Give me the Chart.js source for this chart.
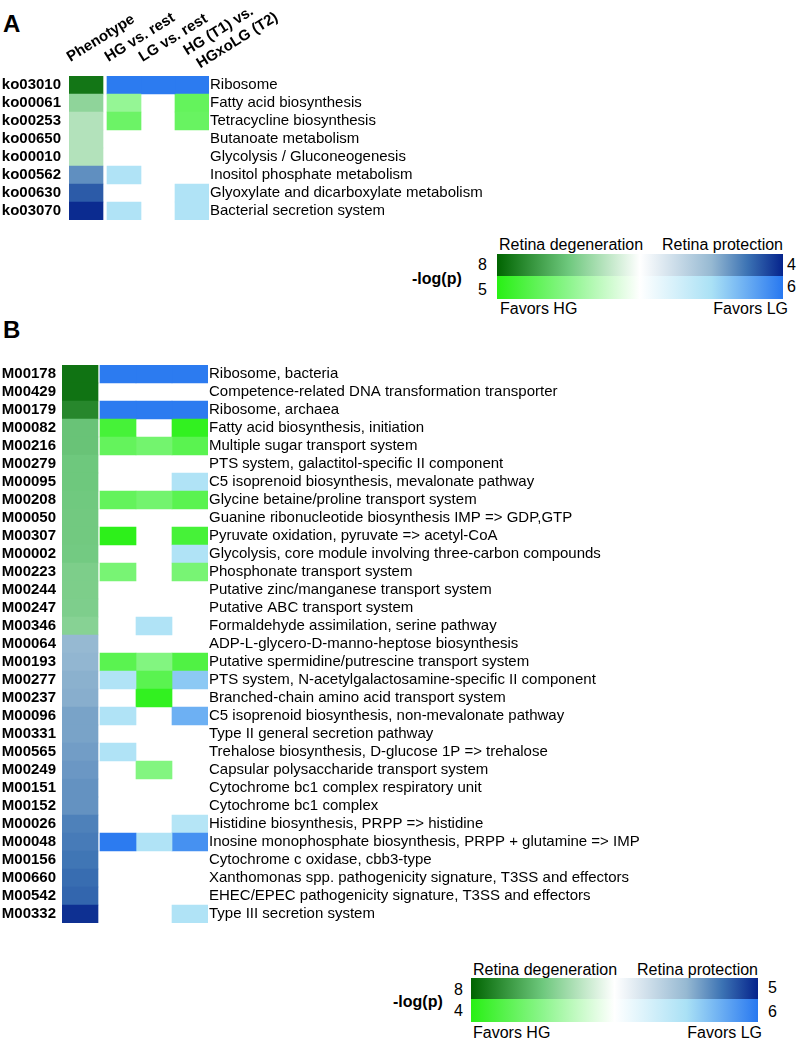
<!DOCTYPE html>
<html>
<head>
<meta charset="utf-8">
<script src="https://cdn.jsdelivr.net/npm/chart.js@4"></script>
<style>
  body { margin: 0; width: 802px; height: 1044px; position: relative; background: #fff; overflow: hidden;
         font-family: "Liberation Sans", Arial, sans-serif; color: #000; }
  canvas { position: absolute; left: 0; }
  .t { position: absolute; font-size: 16px; line-height: 18px; white-space: nowrap; }
  .b { font-weight: bold; }
  .letter { position: absolute; font-size: 24px; line-height: 24px; font-weight: bold; }
  .bar { position: absolute; }
</style>
</head>
<body>
<div class="letter" style="left:3px;top:12px">A</div>
<canvas id="chartA" width="802" height="226" style="top:0"></canvas>

<div class="t b" style="left:412px;top:270px">-log(p)</div>
<div class="t" style="left:478px;top:256px">8</div>
<div class="t" style="left:478px;top:281px">5</div>
<div class="t" style="left:787px;top:256px">4</div>
<div class="t" style="left:787px;top:278px">6</div>
<div class="t" style="left:499px;top:236px">Retina degeneration</div>
<div class="t" style="right:19px;top:236px">Retina protection</div>
<div class="bar pheno" style="left:497px;top:254px;width:286px;height:22px"></div>
<div class="bar favor" style="left:497px;top:276px;width:286px;height:23px"></div>
<div class="t" style="left:500px;top:300px">Favors HG</div>
<div class="t" style="right:14px;top:300px">Favors LG</div>

<div class="letter" style="left:3px;top:318px">B</div>
<canvas id="chartB" width="802" height="575" style="top:360px"></canvas>

<div class="t b" style="left:393px;top:993px">-log(p)</div>
<div class="t" style="left:454px;top:981px">8</div>
<div class="t" style="left:454px;top:1002px">4</div>
<div class="t" style="left:768px;top:979px">5</div>
<div class="t" style="left:768px;top:1003px">6</div>
<div class="t" style="left:473px;top:961px">Retina degeneration</div>
<div class="t" style="right:44px;top:961px">Retina protection</div>
<div class="bar pheno" style="left:471px;top:978px;width:287px;height:21px"></div>
<div class="bar favor" style="left:471px;top:999px;width:287px;height:23px"></div>
<div class="t" style="left:473px;top:1024px">Favors HG</div>
<div class="t" style="right:40px;top:1024px">Favors LG</div>

<script>
// column headers (every header has two lines so they all stack the same way)
const colNames = [['Phenotype', ''], ['HG vs. rest', ''], ['LG vs. rest', ''],
  ['   HG (T1) vs.', '    HGxoLG (T2)']];

// panel A - KEGG pathways
const koIds = ['ko03010', 'ko00061', 'ko00253', 'ko00650', 'ko00010', 'ko00562', 'ko00630', 'ko03070'];
const koNames = ['Ribosome', 'Fatty acid biosynthesis', 'Tetracycline biosynthesis', 'Butanoate metabolism',
  'Glycolysis / Gluconeogenesis', 'Inositol phosphate metabolism', 'Glyoxylate and dicarboxylate metabolism',
  'Bacterial secretion system'];
// -log(p), positive = degeneration / favors HG, negative = protection / favors LG
const koPhenotype = [7.3, 3.1, 2.1, 2.1, 2.1, -2.6, -3.3, -3.9];
const koHG = [-5.9, 2.3, 3.3, null, null, -2.8, null, -2.8];
const koLG = [-5.9, null, null, null, null, null, null, null];
const koT1 = [-5.9, 3.5, 3.4, null, null, null, -2.8, -2.8];

// panel B - KEGG modules
const modIds = ['M00178', 'M00429', 'M00179', 'M00082', 'M00216', 'M00279', 'M00095', 'M00208', 'M00050',
  'M00307', 'M00002', 'M00223', 'M00244', 'M00247', 'M00346', 'M00064', 'M00193', 'M00277', 'M00237',
  'M00096', 'M00331', 'M00565', 'M00249', 'M00151', 'M00152', 'M00026', 'M00048', 'M00156', 'M00660',
  'M00542', 'M00332'];
const modNames = ['Ribosome, bacteria', 'Competence-related DNA transformation transporter', 'Ribosome, archaea',
  'Fatty acid biosynthesis, initiation', 'Multiple sugar transport system',
  'PTS system, galactitol-specific II component', 'C5 isoprenoid biosynthesis, mevalonate pathway',
  'Glycine betaine/proline transport system', 'Guanine ribonucleotide biosynthesis IMP => GDP,GTP',
  'Pyruvate oxidation, pyruvate => acetyl-CoA', 'Glycolysis, core module involving three-carbon compounds',
  'Phosphonate transport system', 'Putative zinc/manganese transport system', 'Putative ABC transport system',
  'Formaldehyde assimilation, serine pathway', 'ADP-L-glycero-D-manno-heptose biosynthesis',
  'Putative spermidine/putrescine transport system', 'PTS system, N-acetylgalactosamine-specific II component',
  'Branched-chain amino acid transport system', 'C5 isoprenoid biosynthesis, non-mevalonate pathway',
  'Type II general secretion pathway', 'Trehalose biosynthesis, D-glucose 1P => trehalose',
  'Capsular polysaccharide transport system', 'Cytochrome bc1 complex respiratory unit', 'Cytochrome bc1 complex',
  'Histidine biosynthesis, PRPP => histidine', 'Inosine monophosphate biosynthesis, PRPP + glutamine => IMP',
  'Cytochrome c oxidase, cbb3-type', 'Xanthomonas spp. pathogenicity signature, T3SS and effectors',
  'EHEC/EPEC pathogenicity signature, T3SS and effectors', 'Type III secretion system'];
const modPhenotype = [7.4, 7.4, 6.6, 4.2, 4.2, 4.0, 4.0, 3.95, 3.9, 3.9, 3.85, 3.6, 3.6, 3.55, 3.3,
  -2.5, -2.55, -2.65, -2.7, -2.9, -2.9, -3.0, -3.1, -3.2, -3.2, -3.5, -3.6, -3.7, -3.85, -3.95, -4.8];
const modHG = [-5.9, null, -5.9, 3.4, 2.8, null, null, 2.8, null, 3.9, null, 2.4, null, null, null,
  null, 3.0, -2.8, null, -2.8, null, -2.8, null, null, null, null, -5.9, null, null, null, null];
const modLG = [-5.9, null, -5.9, null, 2.5, null, null, 2.5, null, null, null, null, null, null, -2.8,
  null, 2.2, 3.0, 3.8, null, null, null, 2.2, null, null, null, -2.8, null, null, null, null];
const modT1 = [-5.9, null, -5.9, 3.8, 3.0, null, -2.8, 3.0, null, 3.4, -2.8, 2.4, null, null, null,
  null, 3.2, -3.7, null, -4.4, null, null, null, null, null, -2.6, -5.3, null, null, null, -2.8];

// colour maps
const phenoGreen = [[0, [255, 255, 255]], [0.5, [110, 200, 125]], [1, [0, 100, 0]]];
const phenoBlue = [[0, [255, 255, 255]], [0.5, [150, 185, 210]], [0.75, [60, 115, 180]], [1, [5, 35, 140]]];
const favorGreen = [[0, [255, 255, 255]], [0.5, [140, 245, 140]], [1, [40, 240, 20]]];
const favorBlue = [[0, [255, 255, 255]], [0.5, [170, 225, 245]], [1, [40, 120, 240]]];

function ramp(stops, t) {
  t = Math.max(0, Math.min(1, t));
  for (let i = 1; i < stops.length; i++) {
    if (t <= stops[i][0]) {
      const [t0, c0] = stops[i - 1], [t1, c1] = stops[i];
      const f = (t - t0) / (t1 - t0);
      return 'rgb(' + c0.map((c, k) => Math.round(c + (c1[k] - c) * f)).join(',') + ')';
    }
  }
  return 'rgb(' + stops[stops.length - 1][1].join(',') + ')';
}

function cellColor(v, sc) {
  if (v === null) return 'rgba(0,0,0,0)';
  return v > 0 ? ramp(sc.pos, v / sc.posMax) : ramp(sc.neg, -v / sc.negMax);
}

function gradient(green, blue) {
  const parts = [];
  green.slice().reverse().forEach(s => parts.push(ramp(green, s[0]) + ' ' + (50 - s[0] * 50) + '%'));
  blue.slice(1).forEach(s => parts.push(ramp(blue, s[0]) + ' ' + (50 + s[0] * 50) + '%'));
  return 'linear-gradient(to right, ' + parts.join(', ') + ')';
}
document.querySelectorAll('.pheno').forEach(el => el.style.background = gradient(phenoGreen, phenoBlue));
document.querySelectorAll('.favor').forEach(el => el.style.background = gradient(favorGreen, favorBlue));

Chart.defaults.font.family = '"Liberation Sans", Arial, sans-serif';
Chart.defaults.color = '#000';

const noGrid = { display: false, drawTicks: false };

function heatmap(id, ids, names, cols, o) {
  const datasets = [];
  cols.forEach((c, i) => {
    if (i === 1) datasets.push({ data: ids.map(() => o.gap), backgroundColor: 'rgba(0,0,0,0)' });
    datasets.push({ data: ids.map(() => 1), backgroundColor: c.values.map(v => cellColor(v, c.scale)) });
  });
  const max = 4 + o.gap;
  const scales = {
    x: { stacked: true, display: false, min: 0, max: max },
    y: {
      stacked: true, grid: noGrid, border: { display: false },
      ticks: { autoSkip: false, padding: o.idPad, font: { size: 15, weight: 'bold' } },
      afterFit: s => { s.width = o.left; s.paddingTop = 0; s.paddingBottom = 0; }
    },
    y2: {
      type: 'category', position: 'right', labels: names, offset: true,
      grid: noGrid, border: { display: false },
      ticks: { autoSkip: false, padding: 1, font: { size: 15 } },
      afterFit: s => { s.width = 802 - o.right; s.paddingTop = 0; s.paddingBottom = 0; }
    }
  };
  if (o.headers) {
    scales.x2 = {
      type: 'linear', position: 'top', min: 0, max: max,
      grid: noGrid, border: { display: false },
      afterBuildTicks: s => { s.ticks = [0.5, 1.5 + o.gap, 2.5 + o.gap, 3.5 + o.gap].map(v => ({ value: v })); },
      ticks: { autoSkip: false, minRotation: 32, maxRotation: 32, padding: -5.5, labelOffset: 1.5,
               font: { size: 15, weight: 'bold' }, callback: (v, i) => colNames[i] },
      afterFit: s => { s.height = o.top; }
    };
  }
  new Chart(document.getElementById(id), {
    type: 'bar',
    data: { labels: ids, datasets: datasets },
    options: {
      indexAxis: 'y',
      responsive: false,
      animation: false,
      layout: { padding: o.padding },
      datasets: { bar: { barPercentage: 1, categoryPercentage: 1, borderWidth: 0 } },
      plugins: { legend: { display: false }, tooltip: { enabled: false } },
      scales: scales
    }
  });
}

const scaleA = { pheno: { pos: phenoGreen, posMax: 8, neg: phenoBlue, negMax: 4 },
                 favor: { pos: favorGreen, posMax: 5, neg: favorBlue, negMax: 6 } };
const scaleB = { pheno: { pos: phenoGreen, posMax: 8, neg: phenoBlue, negMax: 5 },
                 favor: { pos: favorGreen, posMax: 4, neg: favorBlue, negMax: 6 } };

heatmap('chartA', koIds, koNames, [
  { values: koPhenotype, scale: scaleA.pheno },
  { values: koHG, scale: scaleA.favor },
  { values: koLG, scale: scaleA.favor },
  { values: koT1, scale: scaleA.favor }
], { gap: 4 / 34, left: 69, right: 209, idPad: 8, headers: true, top: 76,
     padding: { top: 0, bottom: 6, left: 0, right: 0 } });

heatmap('chartB', modIds, modNames, [
  { values: modPhenotype, scale: scaleB.pheno },
  { values: modHG, scale: scaleB.favor },
  { values: modLG, scale: scaleB.favor },
  { values: modT1, scale: scaleB.favor }
], { gap: 2 / 36, left: 62, right: 208, idPad: 6, headers: false,
     padding: { top: 5, bottom: 12, left: 0, right: 0 } });
</script>
</body>
</html>
